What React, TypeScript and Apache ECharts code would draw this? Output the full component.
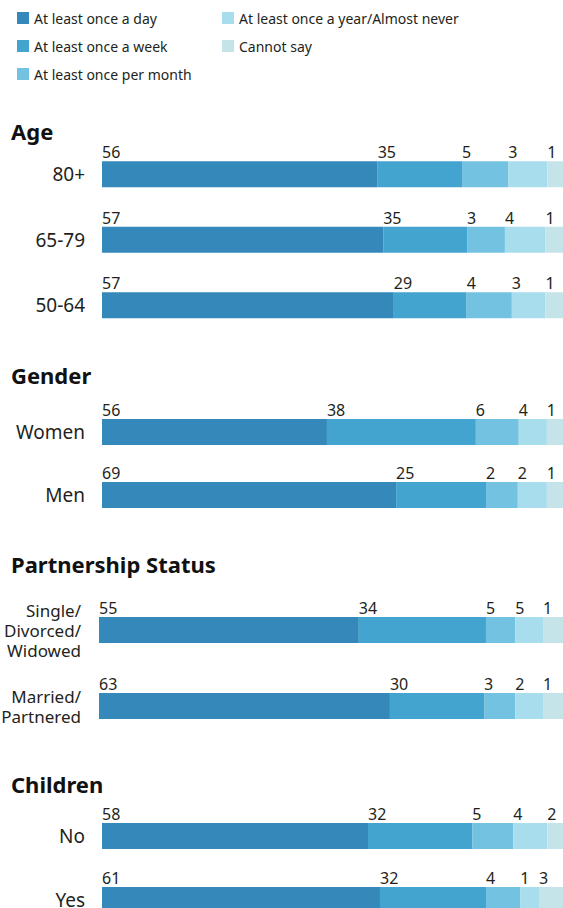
import React, { useEffect, useRef } from "react";
import * as echarts from "echarts";

const seriesNames = [
  "At least once a day",
  "At least once a week",
  "At least once per month",
  "At least once a year/Almost never",
  "Cannot say",
];
const colors = ["#3589ba", "#43a5cf", "#74c2e2", "#a7ddec", "#c4e4ea"];

// Age
const ageCategories = ["80+", "65-79", "50-64"];
const ageLabels = [
  [56, 35, 5, 3, 1],
  [57, 35, 3, 4, 1],
  [57, 29, 4, 3, 1],
];
const ageBars = [
  [59.8, 18.3, 10.0, 8.5, 3.4],
  [61.0, 18.2, 8.2, 8.8, 3.8],
  [63.3, 15.8, 9.8, 7.3, 3.8],
];

// Gender
const genderCategories = ["Women", "Men"];
const genderLabels = [
  [56, 38, 6, 4, 1],
  [69, 25, 2, 2, 1],
];
const genderBars = [
  [48.8, 32.3, 9.3, 6.1, 3.5],
  [63.8, 19.5, 6.9, 6.3, 3.5],
];

// Partnership
const partnerCategories = ["Single/\nDivorced/\nWidowed", "Married/\nPartnered"];
const partnerLabels = [
  [55, 34, 5, 5, 1],
  [63, 30, 3, 2, 1],
];
const partnerBars = [
  [56.0, 27.4, 6.3, 6.0, 4.3],
  [62.7, 20.3, 6.7, 6.0, 4.3],
];

// Children
const childrenCategories = ["No", "Yes"];
const childrenLabels = [
  [58, 32, 5, 4, 2],
  [61, 32, 4, 1, 3],
];
const childrenBars = [
  [57.7, 22.6, 8.9, 7.4, 3.4],
  [60.3, 23.0, 7.4, 4.1, 5.2],
];

const FONT = '"Noto Sans", "Open Sans", sans-serif';
const TEXT = "#231f20";

const groups = [
  { title: "Age", categories: ageCategories, labels: ageLabels, bars: ageBars, titleTop: 120, top: 141.5, height: 196.5, left: 102, catSize: 19, margin: 17 },
  { title: "Gender", categories: genderCategories, labels: genderLabels, bars: genderBars, titleTop: 364, top: 400.5, height: 126, left: 102, catSize: 19, margin: 17 },
  { title: "Partnership Status", categories: partnerCategories, labels: partnerLabels, bars: partnerBars, titleTop: 553, top: 592, height: 152, left: 99, catSize: 17, margin: 18 },
  { title: "Children", categories: childrenCategories, labels: childrenLabels, bars: childrenBars, titleTop: 773, top: 804, height: 128, left: 102, catSize: 19, margin: 17 },
];

export default function App() {
  const ref = useRef<HTMLDivElement>(null);
  useEffect(() => {
    if (!ref.current) return;
    const chart = echarts.init(ref.current, null, { renderer: "svg" });

    const grid = groups.map((g) => ({
      left: g.left,
      right: 0,
      top: g.top,
      height: g.height,
      containLabel: false,
      outerBoundsMode: "none",
    }));
    const xAxis = groups.map((_, i) => ({ type: "value", gridIndex: i, min: 0, max: 100, show: false }));
    const yAxis = groups.map((g, i) => ({
      type: "category",
      gridIndex: i,
      inverse: true,
      data: g.categories,
      axisLine: { show: false },
      axisTick: { show: false },
      splitLine: { show: false },
      axisLabel: {
        fontSize: g.catSize,
        color: TEXT,
        fontFamily: FONT,
        margin: g.margin,
        lineHeight: 20,
        align: "right",
      },
    }));
    const series: any[] = [];
    groups.forEach((g, gi) => {
      seriesNames.forEach((name, si) => {
        series.push({
          type: "bar",
          name,
          xAxisIndex: gi,
          yAxisIndex: gi,
          stack: "g" + gi,
          barWidth: 26,
          data: g.bars.map((r) => r[si]),
          itemStyle: { color: colors[si] },
          emphasis: { disabled: true },
          label: {
            show: true,
            position: [0, -1],
            align: "left",
            verticalAlign: "bottom",
            fontSize: 16,
            color: TEXT,
            fontFamily: FONT,
            formatter: (p: any) => String(g.labels[p.dataIndex][si]),
          },
        });
      });
    });

    const legendCommon = {
      orient: "vertical",
      itemWidth: 12,
      itemHeight: 12,
      itemGap: 14,
      icon: "rect",
      selectedMode: false,
      textStyle: { fontSize: 14, color: TEXT, fontFamily: FONT },
    };

    chart.setOption({
      animation: false,
      backgroundColor: "#ffffff",
      legend: [
        { ...legendCommon, left: 12, top: 6, data: seriesNames.slice(0, 3) },
        { ...legendCommon, left: 217, top: 6, data: seriesNames.slice(3) },
      ],
      grid,
      xAxis,
      yAxis,
      series,
      graphic: groups.map((g) => ({
        type: "text",
        left: 11,
        top: g.titleTop,
        style: { text: g.title, font: `bold 22px ${FONT}`, fill: "#111111" },
      })),
    });
    return () => chart.dispose();
  }, []);
  return <div ref={ref} style={{ position: "fixed", left: 0, top: 0, width: 563, height: 908 }} />;
}
